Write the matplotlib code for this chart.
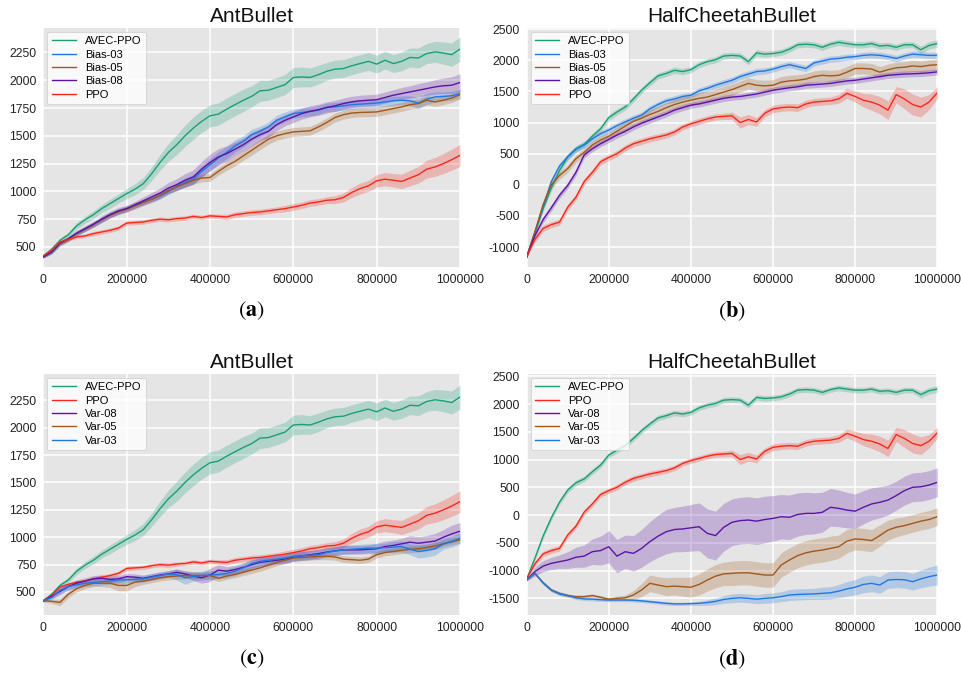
import numpy as np
import matplotlib.pyplot as plt

# learning curves, AntBullet / HalfCheetahBullet, one value every 20000 steps
steps = np.arange(51) * 20000

ant_avec = [420, 480, 560, 610, 690, 745, 790, 845, 890, 935, 980, 1020, 1070, 1160, 1260, 1350, 1420, 1500, 1570, 1630,
            1680, 1695, 1740, 1780, 1820, 1855, 1905, 1910, 1935, 1960, 2025, 2030, 2025, 2050, 2080, 2100, 2105, 2130,
            2150, 2170, 2145, 2180, 2150, 2170, 2205, 2200, 2240, 2255, 2245, 2230, 2280]
ant_avec_sd = [10, 15, 20, 25, 30, 30, 35, 35, 40, 40, 45, 50, 55, 60, 70, 80, 90, 95, 100, 100, 100, 100, 100, 100, 100,
               95, 95, 90, 90, 90, 90, 90, 85, 85, 80, 80, 80, 80, 80, 80, 80, 80, 80, 85, 85, 90, 90, 95, 100, 105, 110]
ant_ppo = [420, 470, 545, 570, 590, 600, 620, 635, 650, 670, 715, 720, 725, 740, 750, 745, 755, 760, 775, 765, 780, 775,
           770, 790, 800, 810, 815, 825, 835, 845, 860, 875, 895, 905, 920, 925, 945, 990, 1025, 1050, 1095, 1110, 1100,
           1090, 1120, 1150, 1200, 1220, 1250, 1285, 1325]
ant_ppo_sd = [10, 10, 15, 15, 15, 15, 20, 20, 20, 20, 20, 20, 20, 20, 20, 20, 20, 20, 20, 20, 20, 20, 25, 25, 25, 25, 25,
              25, 25, 30, 30, 30, 30, 30, 30, 35, 40, 45, 50, 50, 55, 60, 60, 65, 70, 75, 80, 85, 90, 95, 100]
ant_bias03 = [410, 450, 530, 570, 620, 660, 700, 745, 790, 820, 845, 875, 905, 930, 960, 1000, 1045, 1080, 1110, 1180,
              1240, 1300, 1350, 1410, 1450, 1510, 1540, 1580, 1640, 1670, 1700, 1710, 1720, 1730, 1755, 1760, 1770, 1780,
              1785, 1790, 1795, 1805, 1815, 1820, 1815, 1795, 1830, 1850, 1855, 1860, 1880]
ant_bias03_sd = [10, 15, 20, 20, 20, 20, 20, 25, 25, 25, 25, 25, 25, 30, 30, 30, 35, 40, 45, 50, 55, 55, 55, 55, 50, 50,
                 45, 45, 45, 45, 40, 40, 40, 40, 40, 40, 40, 40, 40, 40, 40, 40, 40, 40, 45, 50, 50, 45, 40, 40, 40]
ant_bias05 = [410, 455, 530, 570, 620, 660, 700, 745, 785, 815, 840, 870, 900, 930, 965, 1010, 1040, 1070, 1100, 1120,
              1125, 1180, 1230, 1270, 1320, 1370, 1420, 1470, 1500, 1520, 1535, 1540, 1545, 1580, 1620, 1665, 1690, 1705,
              1710, 1712, 1715, 1730, 1745, 1760, 1780, 1790, 1820, 1805, 1820, 1840, 1870]
ant_bias05_sd = [10, 15, 20, 20, 20, 20, 25, 25, 25, 25, 25, 30, 30, 30, 30, 30, 30, 35, 35, 35, 35, 35, 40, 40, 40, 45,
                 45, 45, 40, 40, 40, 40, 40, 40, 40, 40, 40, 40, 40, 40, 40, 40, 40, 40, 40, 40, 40, 40, 40, 40, 40]
ant_bias08 = [410, 455, 535, 575, 625, 665, 705, 750, 790, 825, 845, 880, 915, 950, 985, 1030, 1060, 1100, 1130, 1200,
              1260, 1310, 1340, 1380, 1420, 1470, 1510, 1540, 1600, 1640, 1670, 1700, 1720, 1735, 1755, 1770, 1790, 1805,
              1815, 1820, 1825, 1845, 1865, 1880, 1895, 1910, 1925, 1940, 1950, 1955, 1980]
ant_bias08_sd = [10, 15, 20, 20, 25, 25, 25, 30, 30, 30, 30, 30, 35, 40, 45, 50, 55, 60, 65, 70, 75, 75, 70, 65, 60, 60,
                 55, 55, 55, 50, 50, 50, 50, 50, 50, 50, 50, 50, 50, 50, 50, 50, 50, 55, 55, 60, 60, 65, 70, 75, 80]
ant_var08 = [420, 460, 505, 550, 580, 600, 620, 625, 615, 620, 640, 635, 625, 640, 655, 665, 680, 665, 645, 630, 655, 700,
             690, 705, 725, 750, 770, 780, 790, 800, 820, 830, 840, 850, 865, 875, 885, 885, 885, 890, 895, 915, 925, 940,
             955, 945, 955, 965, 1000, 1030, 1055]
ant_var08_sd = [10, 20, 30, 30, 30, 30, 30, 30, 30, 30, 30, 30, 30, 30, 30, 30, 30, 30, 40, 50, 60, 50, 40, 40, 40, 40,
                40, 40, 40, 40, 40, 40, 40, 40, 40, 40, 40, 40, 40, 40, 50, 50, 50, 50, 60, 60, 60, 70, 70, 80, 80]
ant_var05 = [420, 415, 405, 480, 530, 560, 580, 580, 580, 560, 560, 590, 600, 615, 630, 640, 645, 650, 650, 650, 650, 625,
             645, 660, 680, 700, 720, 745, 770, 790, 810, 815, 820, 825, 825, 820, 800, 795, 790, 800, 840, 860, 870, 880,
             890, 895, 905, 920, 940, 960, 975]
ant_var05_sd = [10, 20, 30, 30, 30, 30, 30, 30, 40, 50, 50, 40, 30, 30, 30, 30, 30, 30, 30, 30, 30, 30, 30, 30, 30, 30,
                30, 30, 30, 30, 30, 30, 30, 30, 30, 30, 30, 30, 30, 30, 30, 30, 30, 30, 30, 30, 30, 30, 30, 30, 30]
ant_var03 = [420, 450, 515, 550, 565, 580, 585, 595, 600, 610, 612, 615, 620, 635, 650, 665, 660, 630, 640, 650, 655, 660,
             670, 690, 720, 760, 780, 790, 800, 810, 825, 830, 835, 840, 860, 875, 885, 890, 895, 900, 900, 905, 910, 915,
             890, 870, 880, 895, 940, 960, 990]
ant_var03_sd = [10, 20, 30, 30, 30, 30, 30, 30, 30, 30, 30, 30, 30, 30, 30, 30, 50, 60, 40, 40, 40, 40, 40, 40, 40, 40,
                40, 40, 40, 40, 40, 40, 40, 40, 40, 40, 40, 40, 40, 40, 40, 40, 50, 50, 50, 60, 60, 60, 50, 50, 50]

hc_avec = [-1160, -780, -380, -50, 230, 450, 580, 650, 780, 900, 1080, 1170, 1250, 1380, 1520, 1640, 1750, 1790, 1840,
           1820, 1850, 1930, 1980, 2010, 2070, 2080, 2070, 1980, 2120, 2100, 2110, 2130, 2180, 2250, 2260, 2250, 2210,
           2260, 2290, 2270, 2250, 2250, 2270, 2230, 2240, 2210, 2250, 2250, 2170, 2240, 2270]
hc_avec_sd = [20, 40, 50, 50, 50, 50, 50, 50, 50, 50, 50, 50, 50, 50, 50, 50, 50, 50, 50, 50, 50, 50, 50, 50, 50, 50, 50,
              50, 50, 50, 50, 50, 50, 50, 50, 50, 50, 50, 50, 50, 50, 50, 50, 50, 50, 50, 50, 50, 60, 60, 60]
hc_ppo = [-1150, -880, -700, -640, -600, -360, -200, 50, 200, 370, 440, 500, 590, 660, 700, 740, 770, 800, 850, 930, 980,
          1020, 1060, 1090, 1100, 1110, 1000, 1050, 1010, 1150, 1220, 1240, 1250, 1240, 1300, 1330, 1340, 1350, 1380,
          1470, 1420, 1360, 1330, 1280, 1200, 1450, 1380, 1290, 1250, 1330, 1480]
hc_ppo_sd = [20, 40, 50, 50, 50, 50, 50, 50, 50, 50, 50, 50, 50, 50, 50, 50, 50, 50, 50, 50, 50, 50, 50, 50, 50, 60, 90,
             80, 70, 60, 60, 60, 60, 60, 60, 60, 60, 60, 70, 80, 90, 110, 130, 140, 150, 130, 160, 170, 160, 120, 100]
hc_bias03 = [-1160, -760, -350, 50, 300, 450, 570, 640, 740, 820, 880, 950, 1010, 1070, 1120, 1220, 1290, 1350, 1380,
             1420, 1440, 1510, 1550, 1600, 1640, 1680, 1740, 1780, 1820, 1830, 1860, 1900, 1930, 1900, 1870, 1960, 1990,
             2020, 2030, 2050, 2060, 2080, 2090, 2080, 2060, 2030, 2070, 2100, 2090, 2080, 2080]
hc_bias03_sd = [20, 40, 50, 50, 50, 50, 50, 50, 50, 50, 50, 50, 50, 50, 50, 50, 50, 50, 50, 50, 50, 50, 50, 50, 50, 50,
                50, 50, 50, 50, 50, 50, 50, 50, 50, 50, 50, 50, 50, 50, 50, 50, 50, 50, 50, 50, 50, 50, 50, 50, 50]
hc_bias05 = [-1160, -760, -320, 0, 150, 260, 420, 520, 640, 720, 780, 860, 940, 1020, 1070, 1130, 1180, 1240, 1290, 1330,
             1360, 1390, 1410, 1450, 1490, 1530, 1580, 1630, 1600, 1590, 1600, 1650, 1670, 1680, 1700, 1740, 1760, 1750,
             1760, 1810, 1870, 1870, 1860, 1810, 1850, 1880, 1890, 1910, 1900, 1920, 1930]
hc_bias05_sd = [20, 40, 60, 60, 60, 60, 60, 60, 60, 60, 60, 60, 70, 70, 70, 80, 80, 80, 90, 90, 90, 90, 90, 90, 90, 90,
                90, 90, 90, 90, 90, 90, 90, 90, 90, 90, 90, 90, 90, 90, 90, 90, 90, 90, 90, 90, 90, 90, 90, 90, 90]
hc_bias08 = [-1160, -820, -560, -370, -170, -10, 200, 480, 580, 660, 730, 800, 860, 930, 990, 1040, 1090, 1140, 1200,
             1240, 1280, 1300, 1330, 1360, 1390, 1410, 1420, 1440, 1460, 1490, 1520, 1540, 1560, 1575, 1600, 1610, 1620,
             1630, 1650, 1670, 1680, 1700, 1720, 1740, 1760, 1770, 1780, 1785, 1790, 1800, 1815]
hc_bias08_sd = [20, 40, 50, 50, 50, 50, 50, 50, 50, 50, 50, 50, 50, 50, 50, 50, 50, 50, 50, 50, 50, 50, 50, 50, 50, 50,
                50, 50, 50, 50, 50, 50, 50, 50, 50, 50, 50, 50, 50, 50, 50, 50, 50, 50, 50, 50, 50, 50, 50, 50, 50]
hc_var08 = [-1170, -1020, -920, -870, -840, -810, -760, -740, -660, -640, -570, -740, -660, -690, -600, -480, -380, -300,
            -260, -250, -230, -210, -330, -370, -220, -130, -100, -90, -110, -80, -60, -30, -40, 10, 30, 30, 50, 140,
            120, 90, 70, 140, 200, 230, 270, 350, 440, 500, 510, 540, 590]
hc_var08_sd = [20, 80, 100, 110, 120, 150, 180, 200, 230, 260, 290, 300, 300, 320, 340, 360, 380, 400, 400, 410, 420,
               430, 440, 440, 430, 420, 420, 420, 420, 420, 410, 400, 400, 390, 380, 370, 360, 340, 330, 320, 310, 300,
               290, 280, 270, 260, 260, 260, 260, 260, 260]
hc_var05 = [-1170, -1050, -1220, -1350, -1410, -1450, -1470, -1470, -1450, -1480, -1515, -1500, -1490, -1440, -1350,
            -1230, -1260, -1290, -1280, -1290, -1300, -1250, -1170, -1100, -1060, -1050, -1040, -1040, -1060, -1080,
            -1080, -900, -810, -730, -680, -650, -630, -600, -570, -470, -430, -440, -460, -370, -270, -220, -190, -150,
            -110, -80, -30]
hc_var05_sd = [10, 20, 30, 30, 30, 30, 30, 30, 30, 30, 30, 40, 50, 80, 120, 150, 150, 160, 160, 170, 180, 190, 200, 210,
               210, 220, 220, 220, 220, 220, 220, 220, 220, 220, 220, 220, 220, 220, 210, 210, 200, 200, 200, 190, 180,
               170, 160, 160, 160, 160, 160]
hc_var03 = [-1170, -1050, -1220, -1350, -1420, -1450, -1490, -1510, -1515, -1525, -1530, -1530, -1530, -1535, -1545,
            -1560, -1575, -1590, -1600, -1600, -1595, -1590, -1575, -1555, -1520, -1500, -1490, -1500, -1515, -1500,
            -1490, -1470, -1440, -1430, -1425, -1420, -1410, -1400, -1370, -1330, -1300, -1250, -1230, -1260, -1170,
            -1160, -1165, -1200, -1150, -1110, -1080]
hc_var03_sd = [10, 20, 30, 30, 30, 30, 30, 30, 30, 30, 30, 30, 30, 30, 30, 30, 30, 30, 30, 30, 30, 40, 50, 60, 70, 80,
               80, 80, 80, 90, 90, 90, 100, 100, 100, 100, 110, 110, 120, 130, 140, 150, 150, 150, 150, 150, 150, 150,
               160, 170, 180]

GREEN = '#1b9e77'
BLUE = '#1f78e0'
BROWN = '#a0581c'
PURPLE = '#5d14a6'
RED = '#f8281a'

plt.rcParams['font.family'] = ['Liberation Sans', 'DejaVu Sans']
plt.rcParams['mathtext.fontset'] = 'stix'

fig = plt.figure(figsize=(9.61, 6.73), dpi=100)


def panel(rect, title, curves, ylim, yticks, caption):
    ax = fig.add_axes(rect)
    ax.set_facecolor('#e5e5e5')
    for sp in ax.spines.values():
        sp.set_visible(False)
    ax.grid(True, color='white', linewidth=1.1)
    ax.set_axisbelow(True)
    for label, mean, sd, color in curves:
        mean = np.array(mean, dtype=float)
        sd = np.array(sd, dtype=float)
        ax.fill_between(steps, mean - sd, mean + sd, color=color, alpha=0.25, linewidth=0)
        ax.plot(steps, mean, color=color, linewidth=1.0, label=label)
    ax.set_xlim(0, 1000000)
    ax.set_ylim(*ylim)
    ax.set_xticks([0, 200000, 400000, 600000, 800000, 1000000])
    ax.set_xticklabels(['0', '200000', '400000', '600000', '800000', '1000000'])
    ax.set_yticks(yticks)
    ax.set_yticklabels([str(v) for v in yticks])
    ax.tick_params(axis='both', length=0, labelsize=8.8, colors='#222222')
    ax.tick_params(axis='x', pad=5)
    ax.tick_params(axis='y', pad=5)
    ax.set_title(title, fontsize=15, pad=4, color='#111111')
    leg = ax.legend(loc='upper left', fontsize=8, labelspacing=0.3, handlelength=2.2,
                    borderaxespad=0.35, framealpha=0.8, facecolor='white', edgecolor='#cccccc',
                    fancybox=True)
    leg.get_frame().set_linewidth(0.6)
    x0, y0, w, h = rect
    fig.text(x0 + w / 2, y0 - 0.065, caption, ha='center', va='center', fontsize=16)
    return ax


ant_ticks = [500, 750, 1000, 1250, 1500, 1750, 2000, 2250]

panel([0.0451, 0.6033, 0.4336, 0.3551], 'AntBullet',
      [('AVEC-PPO', ant_avec, ant_avec_sd, GREEN),
       ('Bias-03', ant_bias03, ant_bias03_sd, BLUE),
       ('Bias-05', ant_bias05, ant_bias05_sd, BROWN),
       ('Bias-08', ant_bias08, ant_bias08_sd, PURPLE),
       ('PPO', ant_ppo, ant_ppo_sd, RED)],
      (320, 2470), ant_ticks, r'$(\mathbf{a})$')

panel([0.548, 0.6033, 0.4273, 0.3551], 'HalfCheetahBullet',
      [('AVEC-PPO', hc_avec, hc_avec_sd, GREEN),
       ('Bias-03', hc_bias03, hc_bias03_sd, BLUE),
       ('Bias-05', hc_bias05, hc_bias05_sd, BROWN),
       ('Bias-08', hc_bias08, hc_bias08_sd, PURPLE),
       ('PPO', hc_ppo, hc_ppo_sd, RED)],
      (-1320, 2520), [-1000, -500, 0, 500, 1000, 1500, 2000, 2500], r'$(\mathbf{b})$')

panel([0.0451, 0.0862, 0.4336, 0.358], 'AntBullet',
      [('AVEC-PPO', ant_avec, ant_avec_sd, GREEN),
       ('PPO', ant_ppo, ant_ppo_sd, RED),
       ('Var-08', ant_var08, ant_var08_sd, PURPLE),
       ('Var-05', ant_var05, ant_var05_sd, BROWN),
       ('Var-03', ant_var03, ant_var03_sd, BLUE)],
      (290, 2490), ant_ticks, r'$(\mathbf{c})$')

panel([0.548, 0.0862, 0.4273, 0.358], 'HalfCheetahBullet',
      [('AVEC-PPO', hc_avec, hc_avec_sd, GREEN),
       ('PPO', hc_ppo, hc_ppo_sd, RED),
       ('Var-08', hc_var08, hc_var08_sd, PURPLE),
       ('Var-05', hc_var05, hc_var05_sd, BROWN),
       ('Var-03', hc_var03, hc_var03_sd, BLUE)],
      (-1800, 2540), [-1500, -1000, -500, 0, 500, 1000, 1500, 2000, 2500], r'$(\mathbf{d})$')

fig.savefig('out.png', dpi=100)
